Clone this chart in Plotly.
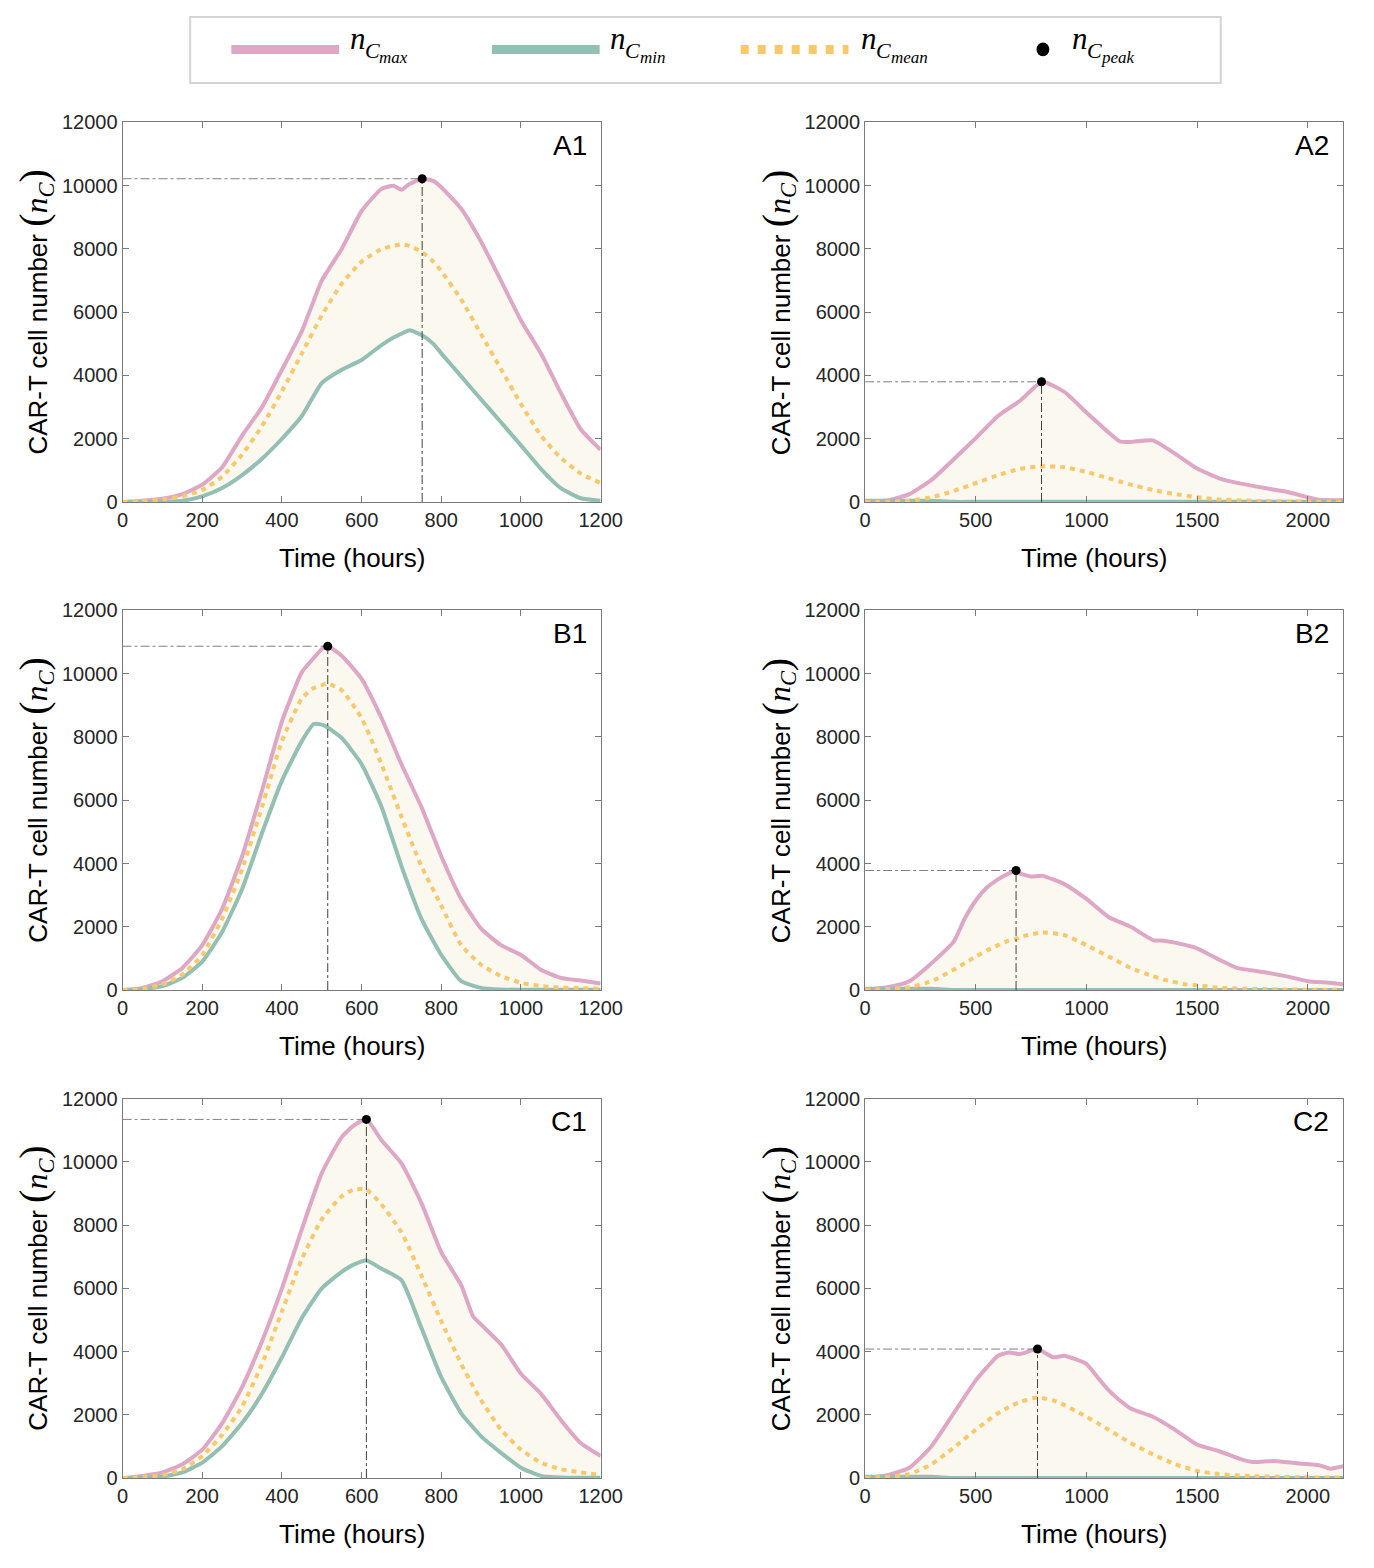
import plotly.graph_objects as go

# ---------------- data ----------------
x_ticks_left = [0, 200, 400, 600, 800, 1000, 1200]
x_ticks_right = [0, 500, 1000, 1500, 2000]
y_ticks = [0, 2000, 4000, 6000, 8000, 10000, 12000]
panel_names = ["A1", "A2", "B1", "B2", "C1", "C2"]

a1_t = [0, 50, 100, 150, 200, 250, 300, 350, 400, 450, 500, 550, 600, 650, 680, 700, 720, 752, 780, 800,
        850, 900, 950, 1000, 1050, 1100, 1150, 1200]
a1_max = [0, 40, 100, 250, 550, 1100, 2100, 3000, 4180, 5400, 7000, 8000, 9200, 9900, 10000, 9870, 10050, 10220,
          10150, 9950, 9270, 8230, 6990, 5740, 4700, 3450, 2300, 1650]
a1_mean = [0, 20, 80, 180, 380, 800, 1500, 2400, 3500, 4700, 5900, 6900, 7600, 8000, 8100, 8150, 8100, 7900,
           7600, 7300, 6400, 5300, 4200, 3100, 2100, 1400, 900, 600]
a1_min = [0, 0, 10, 40, 180, 440, 850, 1370, 2000, 2720, 3760, 4180, 4490, 4960, 5200, 5320, 5430, 5270, 5000,
          4700, 3970, 3240, 2520, 1790, 1050, 440, 120, 40]
a1_peak_t, a1_peak_v = 752, 10220

b1_t = [0, 50, 100, 150, 200, 250, 300, 350, 400, 450, 480, 500, 515, 550, 600, 650, 700, 750, 800, 850, 900,
        950, 1000, 1050, 1100, 1150, 1200]
b1_max = [0, 70, 280, 700, 1420, 2570, 4230, 6310, 8490, 10050, 10500, 10780, 10870, 10570, 9840, 8600, 7140,
          5790, 4230, 2880, 1940, 1420, 1110, 645, 385, 300, 210]
b1_mean = [0, 40, 180, 490, 1110, 2260, 3820, 5790, 7870, 9220, 9550, 9640, 9690, 9480, 8600, 7140, 5480, 3920,
           2670, 1420, 800, 440, 230, 125, 80, 60, 40]
b1_min = [0, 30, 125, 385, 900, 1840, 3190, 4960, 6620, 7870, 8410, 8390, 8300, 7970, 7140, 5790, 3920, 2260,
          1110, 280, 70, 20, 10, 10, 10, 10, 10]
b1_peak_t, b1_peak_v = 515, 10870

c1_t = [0, 50, 100, 150, 200, 250, 300, 350, 400, 450, 500, 550, 580, 612, 650, 700, 750, 800, 850, 880, 900,
        950, 1000, 1050, 1100, 1150, 1200]
c1_max = [0, 70, 180, 440, 900, 1740, 2880, 4330, 6000, 7870, 9640, 10780, 11140, 11340, 10680, 9950, 8700,
          7140, 6100, 5110, 4850, 4230, 3300, 2670, 1840, 1110, 700]
c1_mean = [0, 40, 90, 280, 700, 1370, 2260, 3610, 5270, 6930, 8180, 8910, 9120, 9120, 8650, 7770, 6410, 4960,
           3610, 2900, 2460, 1530, 900, 490, 280, 180, 100]
c1_min = [0, 20, 50, 180, 490, 1010, 1740, 2670, 3820, 5060, 6000, 6520, 6750, 6880, 6620, 6260, 4750, 3190,
          2050, 1600, 1320, 800, 330, 70, 20, 10, 10]
c1_peak_t, c1_peak_v = 612, 11340

a2_t = [0, 100, 200, 300, 400, 500, 600, 700, 800, 900, 1000, 1100, 1150, 1200, 1300, 1400, 1500, 1600, 1700,
        1800, 1900, 2000, 2050, 2160]
a2_max = [0, 50, 250, 700, 1350, 2020, 2720, 3200, 3800, 3480, 2830, 2200, 1920, 1900, 1950, 1530, 1060, 750,
          580, 450, 330, 150, 70, 60]
a2_mean = [0, 10, 40, 150, 350, 600, 850, 1050, 1130, 1100, 950, 750, 650, 550, 380, 250, 150, 80, 50, 30, 20,
           10, 10, 10]
a2_min = [40, 40, 40, 40, 5, 5, 5, 5, 5, 5, 5, 5, 5, 5, 5, 5, 5, 5, 5, 5, 5, 5, 5, 5]
a2_peak_t, a2_peak_v = 797, 3800

b2_t = [0, 100, 200, 300, 400, 450, 500, 550, 600, 650, 682, 700, 750, 800, 900, 1000, 1100, 1200, 1300, 1350,
        1450, 1500, 1600, 1680, 1800, 1900, 2000, 2100, 2160]
b2_max = [0, 90, 280, 850, 1530, 2260, 2830, 3240, 3500, 3690, 3780, 3690, 3590, 3610, 3350, 2880, 2310, 2000,
          1580, 1560, 1420, 1320, 960, 700, 570, 440, 280, 230, 180]
b2_mean = [0, 30, 90, 280, 640, 850, 1060, 1250, 1420, 1560, 1620, 1680, 1760, 1820, 1740, 1420, 1060, 700,
           440, 330, 180, 150, 70, 50, 30, 20, 10, 10, 10]
b2_min = [40, 40, 40, 40, 5, 5, 5, 5, 5, 5, 5, 5, 5, 5, 5, 5, 5, 5, 5, 5, 5, 5, 5, 5, 5, 5, 5, 5, 5]
b2_peak_t, b2_peak_v = 682, 3780

c2_t = [0, 100, 200, 300, 400, 500, 550, 600, 650, 700, 779, 850, 900, 950, 1000, 1050, 1100, 1150, 1200, 1300,
        1400, 1500, 1600, 1700, 1750, 1850, 1950, 2050, 2100, 2160]
c2_max = [0, 90, 330, 1010, 2050, 3090, 3500, 3870, 3970, 3920, 4080, 3820, 3870, 3760, 3610, 3190, 2780, 2460,
          2200, 1940, 1530, 1060, 850, 590, 510, 540, 470, 410, 300, 380]
c2_mean = [0, 40, 125, 440, 960, 1530, 1800, 2050, 2250, 2410, 2550, 2460, 2310, 2130, 1940, 1740, 1530, 1320,
           1110, 750, 440, 230, 125, 80, 60, 45, 30, 20, 20, 20]
c2_min = [40, 40, 40, 40, 5, 5, 5, 5, 5, 5, 5, 5, 5, 5, 5, 5, 5, 5, 5, 5, 5, 5, 5, 5, 5, 5, 5, 5, 5, 5]
c2_peak_t, c2_peak_v = 779, 4080

# ---------------- style ----------------
W, H = 1374, 1568
PINK = "#DEA7C6"
GREEN = "#93BFB4"
ORANGE = "#F8C86A"
FILL = "#FBF8F0"
AXC = "#7a7a7a"
SANS = "Liberation Sans"
SERIF = "Liberation Serif"


def px(x):
    return x / W


def py(y):
    return 1 - y / H


panels = [
    (a1_t, a1_max, a1_mean, a1_min, a1_peak_t, a1_peak_v, 1200, x_ticks_left),
    (a2_t, a2_max, a2_mean, a2_min, a2_peak_t, a2_peak_v, 2160, x_ticks_right),
    (b1_t, b1_max, b1_mean, b1_min, b1_peak_t, b1_peak_v, 1200, x_ticks_left),
    (b2_t, b2_max, b2_mean, b2_min, b2_peak_t, b2_peak_v, 2160, x_ticks_right),
    (c1_t, c1_max, c1_mean, c1_min, c1_peak_t, c1_peak_v, 1200, x_ticks_left),
    (c2_t, c2_max, c2_mean, c2_min, c2_peak_t, c2_peak_v, 2160, x_ticks_right),
]

col_px = [(119, 607), (877, 1365)]
row_px = [(113, 498), (608, 993), (1103, 1488)]

fig = go.Figure()
layout = {}
annotations = []
shapes = []

for i, (t, vmax, vmean, vmin, pt, pv, xmax, xt) in enumerate(panels):
    k = i + 1
    r, c = divmod(i, 2)
    xa = "x" if k == 1 else f"x{k}"
    ya = "y" if k == 1 else f"y{k}"
    common = dict(xaxis=xa, yaxis=ya, showlegend=False, hoverinfo="skip")
    sp = dict(shape="spline", smoothing=0.5)
    fig.add_trace(go.Scatter(x=t, y=vmin, mode="lines", line=dict(width=0, color=GREEN, **sp), **common))
    fig.add_trace(go.Scatter(x=t, y=vmax, mode="lines", line=dict(width=0, color=PINK, **sp),
                             fill="tonexty", fillcolor=FILL, **common))
    fig.add_trace(go.Scatter(x=t, y=vmax, mode="lines", line=dict(width=4, color=PINK, **sp), **common))
    fig.add_trace(go.Scatter(x=t, y=vmin, mode="lines", line=dict(width=4, color=GREEN, **sp), **common))
    fig.add_trace(go.Scatter(x=t, y=vmean, mode="lines",
                             line=dict(width=4, color=ORANGE, dash="5px,5px", **sp), **common))
    fig.add_trace(go.Scatter(x=[0, pt], y=[pv, pv], mode="lines",
                             line=dict(width=1, color="#808080", dash="dashdot"), **common))
    fig.add_trace(go.Scatter(x=[pt, pt], y=[0, pv], mode="lines",
                             line=dict(width=1, color="#404040", dash="dashdot"), **common))
    fig.add_trace(go.Scatter(x=[pt], y=[pv], mode="markers",
                             marker=dict(size=9, color="black"), **common))

    x0, x1 = col_px[c]
    y0, y1 = row_px[r]
    axis_common = dict(showgrid=False, zeroline=False, showline=True, linecolor=AXC, linewidth=1,
                       mirror="allticks", ticks="inside", ticklen=6, tickcolor=AXC,
                       tickfont=dict(family=SANS, size=20, color="#262626"))
    layout["xaxis" if k == 1 else f"xaxis{k}"] = dict(
        domain=[px(x0), px(x1)], range=[0, xmax], tickvals=xt, ticktext=[str(v) for v in xt],
        anchor=ya, **axis_common)
    layout["yaxis" if k == 1 else f"yaxis{k}"] = dict(
        domain=[py(y1), py(y0)], range=[0, 12000], tickvals=y_ticks, ticktext=[str(v) for v in y_ticks],
        anchor=xa, **axis_common)

    annotations.append(dict(text=panel_names[i], xref=f"{xa} domain", yref=f"{ya} domain",
                            x=0.975, y=0.985, xanchor="right", yanchor="top", showarrow=False,
                            font=dict(family=SANS, size=28, color="black")))
    annotations.append(dict(text="Time (hours)", xref=f"{xa} domain", yref=f"{ya} domain",
                            x=0.479, y=-0.148, xanchor="center", yanchor="middle", showarrow=False,
                            font=dict(family=SANS, size=26, color="black")))
    ytitle = ("CAR-T cell number <span style='font-family:Liberation Serif;font-size:40px'>(</span>"
              "<span style='font-family:Liberation Serif;font-size:32px'><i>n</i><sub><i>C</i></sub></span>"
              "<span style='font-family:Liberation Serif;font-size:40px'>)</span>")
    annotations.append(dict(text=ytitle, xref="paper", yref="paper",
                            x=px(30 + c * 758), y=py((y0 + y1) / 2),
                            xanchor="center", yanchor="middle", textangle=-90, showarrow=False,
                            font=dict(family=SANS, size=26, color="black")))

# ---------------- legend (drawn) ----------------
shapes.append(dict(type="rect", xref="paper", yref="paper", x0=px(188), x1=px(1240), y0=py(73), y1=py(6),
                   line=dict(color="#d4d4d4", width=2), fillcolor="white", layer="below"))
legend_items = [(PINK, "solid", 230), (GREEN, "solid", 496), (ORANGE, "8px,9px", 750)]
for col, dash, lx in legend_items:
    shapes.append(dict(type="line", xref="paper", yref="paper", x0=px(lx), x1=px(lx + 110),
                       y0=py(39), y1=py(39), line=dict(color=col, width=9, dash=dash)))
shapes.append(dict(type="circle", xref="paper", yref="paper", x0=px(1052), x1=px(1065),
                   y0=py(46), y1=py(32), fillcolor="black", line=dict(color="black", width=0)))
for sub, tx in [("max", 349), ("min", 615), ("mean", 871), ("peak", 1086)]:
    annotations.append(dict(text="<i>n</i>", xref="paper", yref="paper", x=px(tx), y=py(28),
                            xanchor="left", yanchor="middle", showarrow=False,
                            font=dict(family=SERIF, size=31, color="black")))
    annotations.append(dict(text="<i>C</i>", xref="paper", yref="paper", x=px(tx + 15), y=py(40),
                            xanchor="left", yanchor="middle", showarrow=False,
                            font=dict(family=SERIF, size=22, color="black")))
    annotations.append(dict(text=f"<i>{sub}</i>", xref="paper", yref="paper", x=px(tx + 30), y=py(47.5),
                            xanchor="left", yanchor="middle", showarrow=False,
                            font=dict(family=SERIF, size=17, color="black")))

fig.update_layout(autosize=True, margin=dict(l=0, r=0, t=0, b=0),
                  paper_bgcolor="white", plot_bgcolor="white",
                  annotations=annotations, shapes=shapes, **layout)

fig.write_html("out.html", config={"displayModeBar": False, "responsive": True},
               default_width="100vw; position:fixed; left:0; top:0; margin:0",
               default_height="100vh")
